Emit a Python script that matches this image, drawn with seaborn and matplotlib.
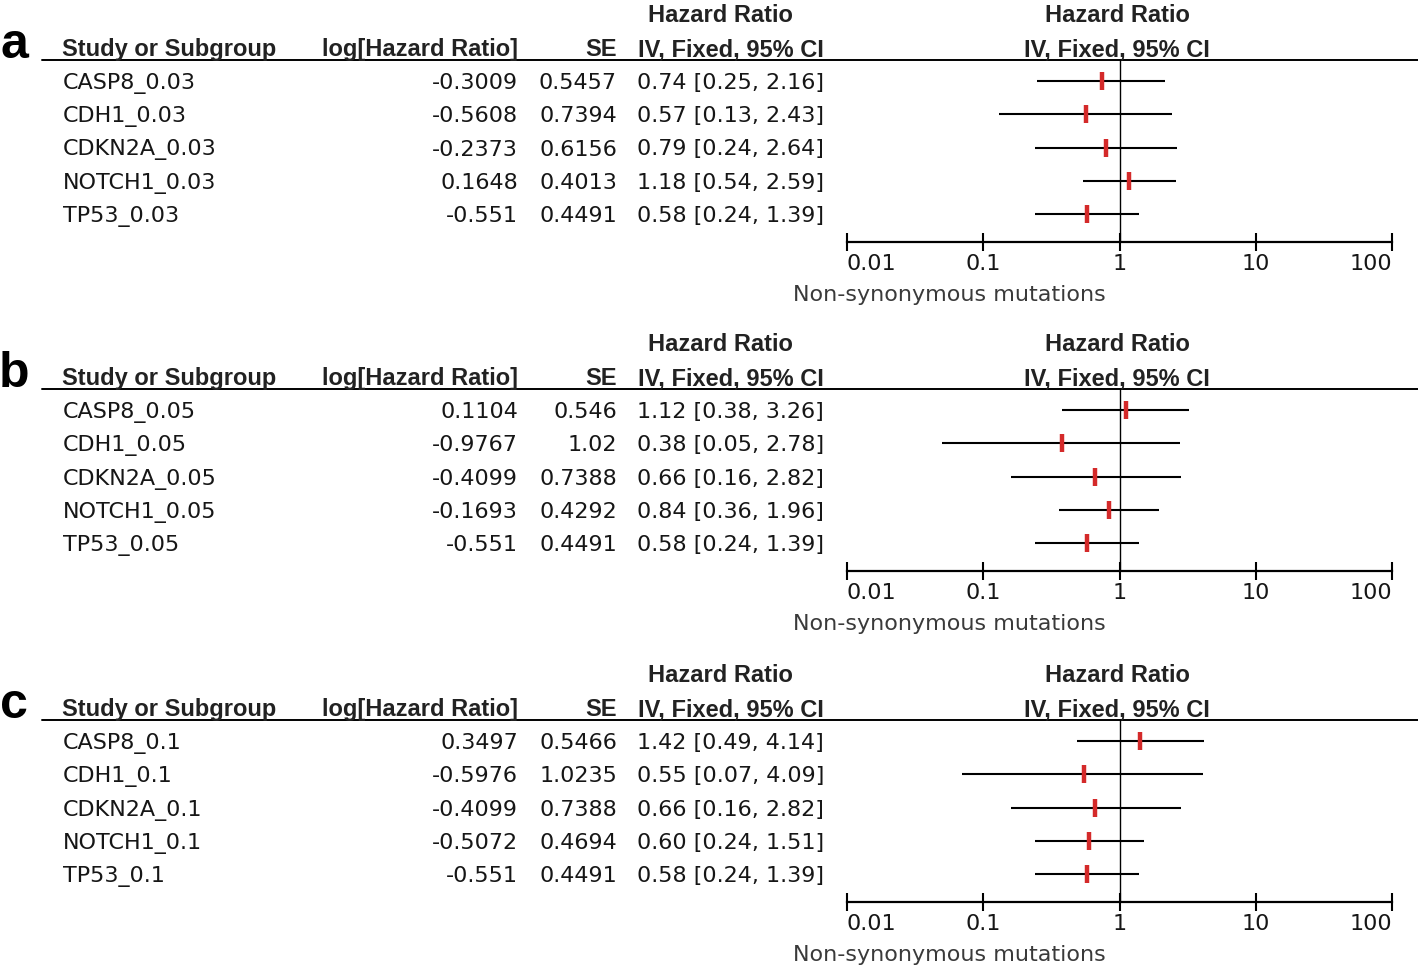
import matplotlib
matplotlib.use("Agg")
import matplotlib.pyplot as plt
import seaborn as sns

# =============================
# data
# =============================
genes = ["CASP8", "CDH1", "CDKN2A", "NOTCH1", "TP53"]
panel_letters = ["a", "b", "c"]
thresholds = ["0.03", "0.05", "0.1"]

loghr_a = [-0.3009, -0.5608, -0.2373, 0.1648, -0.551]
se_a = [0.5457, 0.7394, 0.6156, 0.4013, 0.4491]
hr_a = [0.74, 0.57, 0.79, 1.18, 0.58]
lo_a = [0.25, 0.13, 0.24, 0.54, 0.24]
hi_a = [2.16, 2.43, 2.64, 2.59, 1.39]

loghr_b = [0.1104, -0.9767, -0.4099, -0.1693, -0.551]
se_b = [0.546, 1.02, 0.7388, 0.4292, 0.4491]
hr_b = [1.12, 0.38, 0.66, 0.84, 0.58]
lo_b = [0.38, 0.05, 0.16, 0.36, 0.24]
hi_b = [3.26, 2.78, 2.82, 1.96, 1.39]

loghr_c = [0.3497, -0.5976, -0.4099, -0.5072, -0.551]
se_c = [0.5466, 1.0235, 0.7388, 0.4694, 0.4491]
hr_c = [1.42, 0.55, 0.66, 0.60, 0.58]
lo_c = [0.49, 0.07, 0.16, 0.24, 0.24]
hi_c = [4.14, 4.09, 2.82, 1.51, 1.39]

ticks = [0.01, 0.1, 1, 10, 100]
tick_labels = ["0.01", "0.1", "1", "10", "100"]
xlabel = "Non-synonymous mutations"

panels = [
    (loghr_a, se_a, hr_a, lo_a, hi_a),
    (loghr_b, se_b, hr_b, lo_b, hi_b),
    (loghr_c, se_c, hr_c, lo_c, hi_c),
]

# =============================
# style
# =============================
sns.set_style("white")
plt.rcParams["font.family"] = ["DejaVu Sans"]

W, H = 1418, 972
fig = plt.figure(figsize=(W / 100, H / 100), dpi=100)

# background axes in pixel units, for the table text and rules
bg = fig.add_axes([0, 0, 1, 1])
bg.set_xlim(0, W)
bg.set_ylim(H, 0)
bg.axis("off")

head = dict(family="Liberation Sans", weight="bold", fontsize=17, color="#222222")
body = dict(family="DejaVu Sans", fontsize=16, color="#161616")
red = "#d42a2a"

offsets = [0, 329, 660]
row_gap = 33.25
line_y = 60
first_row = 81
axis_y = 242

for p, (loghr, se, hr, lo, hi) in enumerate(panels):
    off = offsets[p]

    # headers
    bg.text(720, 22 + off, "Hazard Ratio", ha="center", va="baseline", **head)
    bg.text(62, 56 + off, "Study or Subgroup", ha="left", va="baseline", **head)
    bg.text(518, 56 + off, "log[Hazard Ratio]", ha="right", va="baseline", **head)
    bg.text(617, 56 + off, "SE", ha="right", va="baseline", **head)
    bg.text(824, 56 + off, "IV, Fixed, 95% CI", ha="right", va="baseline", **head)
    bg.text(1117, 22 + off, "Hazard Ratio", ha="center", va="baseline", **head)
    bg.text(1117, 56 + off, "IV, Fixed, 95% CI", ha="center", va="baseline", **head)
    bg.plot([42, W], [line_y + off] * 2, color="black", lw=1.4)

    bg.text(14, 58 + off, panel_letters[p], ha="center", va="baseline",
            family="Liberation Sans", weight="bold", fontsize=36, color="black")

    # table rows
    for i in range(len(genes)):
        yb = first_row + off + row_gap * i + 8
        bg.text(63, yb, f"{genes[i]}_{thresholds[p]}", ha="left", va="baseline", **body)
        bg.text(518, yb, str(loghr[i]), ha="right", va="baseline", **body)
        bg.text(617, yb, str(se[i]), ha="right", va="baseline", **body)
        bg.text(824, yb, f"{hr[i]:.2f} [{lo[i]:.2f}, {hi[i]:.2f}]",
                ha="right", va="baseline", **body)

    bg.text(949, 295 + off, xlabel, ha="center", va="center",
            family="DejaVu Sans", fontsize=16, color="#3a3a3a")

    # forest plot axes
    x0, x1 = 847, 1392
    top = line_y + off
    bot = axis_y + off
    ax = fig.add_axes([x0 / W, 1 - bot / H, (x1 - x0) / W, (bot - top) / H])
    ax.set_facecolor("none")
    ax.set_xscale("log")
    ax.set_xlim(0.01, 100)
    rows = list(range(len(genes)))
    ax.set_ylim((bot - first_row - off) / row_gap, -(first_row - line_y) / row_gap)

    ax.axvline(1, color="black", lw=1.0, zorder=1)
    ax.hlines(rows, lo, hi, color="black", lw=1.5, zorder=2)
    sns.scatterplot(x=hr, y=rows, marker="|", s=150, linewidth=3.2,
                    color=red, ax=ax, zorder=3, legend=False)

    for side in ["top", "left", "right"]:
        ax.spines[side].set_visible(False)
    ax.spines["bottom"].set_linewidth(1.6)
    ax.spines["bottom"].set_color("black")
    ax.set_yticks([])
    ax.set_xticks(ticks)
    ax.set_xticklabels(tick_labels)
    ax.minorticks_off()
    ax.tick_params(axis="x", which="major", bottom=True, direction="inout",
                   length=13, width=1.5, color="black", pad=2,
                   labelsize=16, labelcolor="#161616")
    labels = ax.get_xticklabels()
    labels[0].set_horizontalalignment("left")
    labels[-1].set_horizontalalignment("right")
    ax.set_xlabel("")
    ax.set_ylabel("")

fig.savefig("out.png", dpi=100)
